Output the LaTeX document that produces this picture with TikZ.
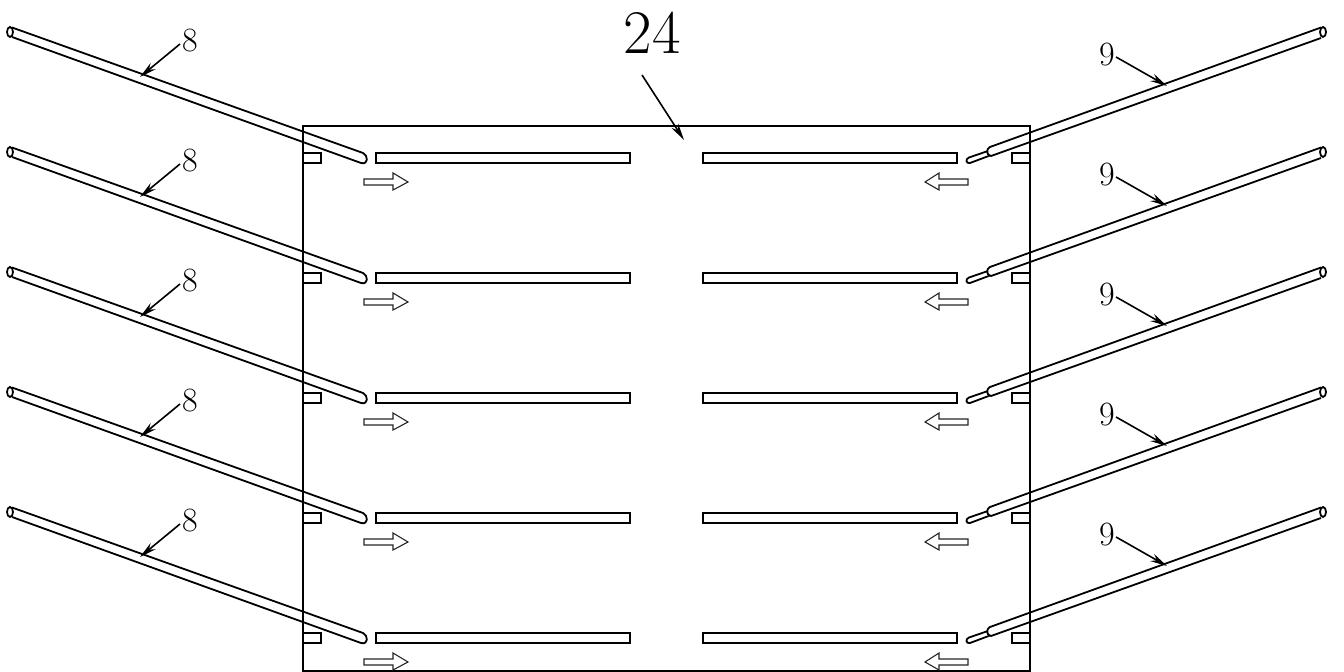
\documentclass[tikz,border=0pt]{standalone}
\usetikzlibrary{arrows.meta}
\tikzset{
  px/.style={x=0.5pt,y=-0.5pt},
  heavy/.style={draw=black,line width=0.9pt},
  light/.style={draw=black!85,line width=0.55pt},
  leader/.style={draw=black,line width=0.8pt,-{Stealth[length=8.5pt,width=4pt]}},
  lab/.style={inner sep=0pt,font=\fontsize{17}{17}\selectfont},
  bigl/.style={inner sep=0pt,font=\fontsize{31}{31}\selectfont}
}
\begin{document}
\begin{tikzpicture}[px]
\useasboundingbox (0,0) rectangle (1344,672);
\fill[white] (0,0) rectangle (1344,672);
\draw[heavy] (303,126) rectangle (1030,671);
\node[bigl] (n24) at (652,33) {24};
\coordinate (s24) at (642,75);
\coordinate (t24) at (684,140);
\draw[leader] (s24) -- (t24);
\foreach \i in {0,...,4}{
  \begin{scope}[yshift={-60pt*\i}]
    % frame tabs and slots
    \draw[heavy] (303,153) -- (321,153) -- (321,163) -- (303,163);
    \draw[heavy] (1030,153) -- (1012,153) -- (1012,163) -- (1030,163);
    \draw[heavy] (376,153) rectangle (630,163);
    \draw[heavy] (703,153) rectangle (957,163);
    % left pipe
    \draw[heavy] (10,32) ellipse [x radius=3,y radius=5];
    \draw[heavy,line join=round] (12,27.5) -- (363,153) .. controls (368,155) and (369,165) .. (361,163) -- (12,37);
    % right pipe
    \draw[heavy] (1323,32) ellipse [x radius=3,y radius=5];
    \draw[heavy] (1321,27.5) -- (990,147) .. controls (986,149) and (986,155) .. (991,156) -- (1321,38);
    \draw[heavy] (988,151) -- (969,157.5) .. controls (965,159) and (966,164) .. (970,163) -- (990,155.5);
    % flow arrows
    \draw[light] (364,179) -- (393,179) -- (393,173) -- (408,182) -- (393,190) -- (393,185) -- (364,185) -- cycle;
    \draw[light] (968,179) -- (939,179) -- (939,173) -- (925,182) -- (939,190) -- (939,185) -- (968,185) -- cycle;
    % labels
    \node[lab] (e\i) at (190,41) {8};
    \coordinate (es\i) at (180,44);
    \coordinate (et\i) at (140,77);
    \draw[leader] (es\i) -- (et\i);
    \node[lab] (r\i) at (1107,55) {9};
    \coordinate (rs\i) at (1116,57);
    \coordinate (rt\i) at (1167,86);
    \draw[leader] (rs\i) -- (rt\i);
  \end{scope}
}
\end{tikzpicture}
\end{document}
